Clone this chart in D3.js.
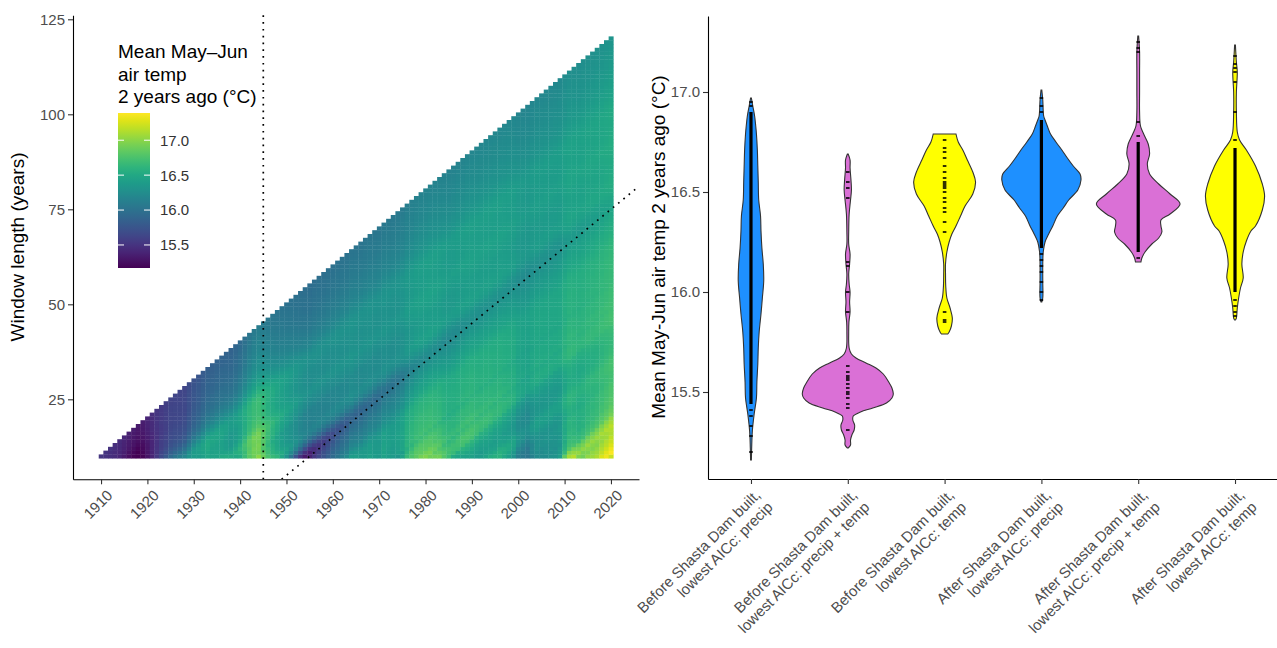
<!DOCTYPE html>
<html><head><meta charset="utf-8">
<script src="https://cdn.jsdelivr.net/npm/d3@7"></script>
<style>
body{margin:0;background:#fff}
svg{display:block}
text{font-family:"Liberation Sans",Arial,Helvetica,sans-serif}
</style>
</head><body>
<svg id="chart" width="1277" height="648"></svg>
<script>
// ---------------- DATA ----------------
// Estimated annual mean May–Jun air temperature (°C), 1901–2020 (values read from the heatmap's window means)
const annualStartYear = 1901;
const annualTemp = [
  15.6, 15.5, 15.5, 15.5, 15.7, 15.6, 15.5, 15.4, 15.4, 15.5,
  15.4, 15.3, 15.2, 15.1, 14.9, 14.8, 14.9, 15.0, 15.8, 16.4,
  16.6, 16.7, 16.5, 16.2, 16.4, 15.8, 15.7, 15.9, 17.0, 17.1,
  16.6, 17.0, 17.1, 16.0, 16.4, 16.3, 15.9, 15.8, 16.8, 17.4,
  18.1, 18.3, 17.9, 17.1, 15.2, 15.0, 15.1, 15.3, 15.4, 15.5,
  15.6, 15.4, 15.3, 15.5, 15.8, 16.4, 16.3, 16.2, 16.3, 16.6,
  16.4, 16.5, 16.3, 17.2, 15.9, 16.0, 16.4, 16.6, 16.0, 16.3,
  17.3, 16.0, 16.1, 16.8, 17.0, 18.2, 17.3, 17.3, 16.9, 16.7,
  16.7, 16.1, 16.1, 15.6, 15.9, 16.5, 16.9, 17.1, 16.8, 16.7,
  16.1, 16.3, 16.7, 16.4, 16.2, 16.7, 15.9, 16.2, 15.9, 14.6,
  15.8, 15.9, 17.8, 17.3, 16.3, 16.6, 16.5, 16.4, 16.9, 19.0,
  18.2, 16.4, 15.9, 16.9, 17.4, 17.0, 17.1, 17.8, 17.6, 17.8
];
const heatEndYearFirst = 1910;
const heatEndYearLast = 2020;
const windowMin = 10;
const damYear = 1945;
const colorLimits = [15.17, 17.39];
const legendBreaks = [15.5, 16.0, 16.5, 17.0];
const heatXTicks = [1910, 1920, 1930, 1940, 1950, 1960, 1970, 1980, 1990, 2000, 2010, 2020];
const heatYTicks = [25, 50, 75, 100, 125];
const legendTitle = ["Mean May\u2013Jun", "air temp", "2 years ago (\u00B0C)"];

// Violin panel
const violinCategories = [
  ["Before Shasta Dam built,", "lowest AICc: precip"],
  ["Before Shasta Dam built,", "lowest AICc: precip + temp"],
  ["Before Shasta Dam built,", "lowest AICc: temp"],
  ["After Shasta Dam built,", "lowest AICc: precip"],
  ["After Shasta Dam built,", "lowest AICc: precip + temp"],
  ["After Shasta Dam built,", "lowest AICc: temp"]
];
const violinModel = ["precip", "precip + temp", "temp", "precip", "precip + temp", "temp"];
const modelColors = {"precip": "#1E90FF", "precip + temp": "#DA70D6", "temp": "#FFFF00"};
const violinYTicks = [15.5, 16.0, 16.5, 17.0];
// density profiles: [temperature, relative density (widest violin = 1)]
const violin1 = [[15.16,0],[15.22,0.015],[15.305,0.03],[15.39,0.07],[15.47,0.12],[15.55,0.13],[15.64,0.15],[15.72,0.16],[15.8,0.18],[15.89,0.22],[15.97,0.25],[16.055,0.28],[16.14,0.27],[16.22,0.24],[16.305,0.22],[16.38,0.21],[16.46,0.17],[16.55,0.16],[16.63,0.15],[16.71,0.14],[16.79,0.12],[16.84,0.10],[16.88,0.08],[16.93,0.04],[16.97,0]];
const violin2 = [[15.22,0],[15.235,0.06],[15.26,0.06],[15.285,0.09],[15.31,0.14],[15.335,0.15],[15.36,0.11],[15.38,0.12],[15.40,0.28],[15.42,0.55],[15.445,0.85],[15.47,0.97],[15.49,1.0],[15.52,0.97],[15.55,0.9],[15.59,0.78],[15.62,0.62],[15.645,0.4],[15.67,0.18],[15.69,0.08],[15.72,0.03],[15.8,0.02],[15.85,0.025],[15.9,0.05],[15.95,0.04],[16.0,0.05],[16.04,0.03],[16.09,0.02],[16.14,0.04],[16.19,0.05],[16.24,0.02],[16.3,0.02],[16.39,0.03],[16.46,0.06],[16.51,0.08],[16.56,0.07],[16.62,0.05],[16.66,0.05],[16.69,0]];
const violin3 = [[15.79,0.07],[15.8,0.1],[15.83,0.15],[15.87,0.17],[15.92,0.12],[15.97,0.05],[16.03,0.025],[16.09,0.02],[16.14,0.02],[16.2,0.05],[16.25,0.1],[16.29,0.16],[16.33,0.25],[16.38,0.35],[16.43,0.45],[16.49,0.62],[16.55,0.68],[16.6,0.62],[16.66,0.5],[16.71,0.4],[16.75,0.3],[16.79,0.25]];
const violin4 = [[15.95,0],[15.97,0.03],[16.05,0.03],[16.14,0.03],[16.2,0.04],[16.25,0.08],[16.29,0.16],[16.33,0.25],[16.38,0.35],[16.42,0.48],[16.46,0.6],[16.51,0.8],[16.56,0.87],[16.59,0.85],[16.63,0.7],[16.67,0.57],[16.71,0.45],[16.75,0.32],[16.79,0.2],[16.83,0.13],[16.86,0.08],[16.88,0.05],[16.96,0.03],[17.01,0]];
const violin5 = [[16.15,0.06],[16.17,0.08],[16.2,0.15],[16.24,0.3],[16.27,0.45],[16.3,0.52],[16.33,0.5],[16.36,0.5],[16.39,0.7],[16.44,0.92],[16.49,0.7],[16.54,0.45],[16.59,0.25],[16.64,0.2],[16.69,0.25],[16.74,0.22],[16.79,0.12],[16.83,0.05],[16.9,0.03],[17.0,0.03],[17.1,0.03],[17.2,0.03],[17.28,0]];
const violin6 = [[15.86,0],[15.87,0.03],[15.92,0.05],[15.97,0.08],[16.02,0.12],[16.07,0.18],[16.14,0.15],[16.2,0.18],[16.255,0.25],[16.305,0.35],[16.33,0.45],[16.41,0.6],[16.48,0.65],[16.54,0.6],[16.63,0.45],[16.71,0.25],[16.76,0.1],[16.8,0.05],[16.9,0.03],[17.0,0.03],[17.1,0.05],[17.15,0.03],[17.235,0]];
const violinProfiles = [violin1, violin2, violin3, violin4, violin5, violin6];
// model points (dense runs, and isolated values)
const pointRuns = [[[15.44,16.9]], [], [], [[16.22,16.86]], [[16.2,16.75]], [[16.0,16.72]]];
const pointSingles = [
  [15.2,15.28,15.33,15.38,15.41,16.93,16.95],
  [15.31,15.42,15.44,15.47,15.49,15.5,15.52,15.54,15.56,15.57,15.58,15.6,15.63,15.9,16.0,16.13,16.15,16.47,16.52,16.55,16.6],
  [15.85,15.86,15.9,16.3,16.35,16.4,16.42,16.45,16.47,16.5,16.52,16.53,16.54,16.55,16.57,16.6,16.63,16.67,16.7,16.72,16.76],
  [15.96,16.0,16.05,16.1,16.13,16.16,16.19,16.9,16.93,16.97],
  [16.17,16.78,16.85,17.2,17.22,17.25],
  [15.88,15.9,15.93,15.96,16.76,16.9,17.05,17.1,17.12,17.14,17.18]
];

// ---------------- CHART ----------------
const svg = d3.select("#chart");
const tickCol = "#4d4d4d", tickFs = "15px", titleFs = "19px";

// ===== Left: heatmap =====
const hx = d3.scaleLinear().domain([1903.95, 2026.05]).range([73, 639]);
const hy = d3.scaleLinear().domain([3.95, 126.05]).range([479.3, 15.3]);
const color = d3.scaleSequential(d3.interpolateViridis).domain(colorLimits).clamp(true);

const cells = [];
for (let end = heatEndYearFirst; end <= heatEndYearLast; end++) {
  const maxL = end - annualStartYear + 1;
  for (let L = windowMin; L <= maxL; L++) {
    const i1 = end - annualStartYear, i0 = i1 - L + 1;
    let s = 0;
    for (let i = i0; i <= i1; i++) s += annualTemp[i];
    cells.push({year: end, L: L, v: s / L});
  }
}
svg.append("g").selectAll("rect").data(cells).join("rect")
  .attr("x", d => hx(d.year - 0.5))
  .attr("y", d => hy(d.L + 0.5))
  .attr("width", d => hx(d.year + 0.5) - hx(d.year - 0.5) + 0.35)
  .attr("height", d => hy(d.L - 0.5) - hy(d.L + 0.5) + 0.35)
  .attr("fill", d => color(d.v));

// dotted reference lines
svg.append("clipPath").attr("id", "hclip").append("rect")
  .attr("x", 73).attr("y", 15.3).attr("width", 639 - 73).attr("height", 479.3 - 15.3);
const dotStyle = sel => sel.attr("stroke", "#000").attr("stroke-width", 1.7)
  .attr("stroke-dasharray", "1.7,5.1").attr("fill", "none");
svg.append("line").attr("x1", hx(damYear)).attr("x2", hx(damYear))
  .attr("y1", hy.range()[1]).attr("y2", hy.range()[0]).call(dotStyle);
const xd = hx.domain(), yd = hy.domain();
const dx0 = Math.max(xd[0], yd[0] + damYear), dx1 = Math.min(xd[1], yd[1] + damYear);
svg.append("line").attr("clip-path", "url(#hclip)")
  .attr("x1", hx(dx0)).attr("y1", hy(dx0 - damYear))
  .attr("x2", hx(dx1)).attr("y2", hy(dx1 - damYear)).call(dotStyle);

// axes
function styleAxis(g) {
  g.select(".domain").attr("stroke", "#000").attr("stroke-width", 1.1);
  g.selectAll(".tick line").attr("stroke", "#333").attr("stroke-width", 1.1);
  g.selectAll(".tick text").attr("fill", tickCol).style("font-size", tickFs);
}
svg.append("g").attr("transform", "translate(73,0)")
  .call(d3.axisLeft(hy).tickValues(heatYTicks).tickSize(5).tickSizeOuter(0).tickPadding(3))
  .call(styleAxis);
const hxAxis = svg.append("g").attr("transform", "translate(0,479.3)")
  .call(d3.axisBottom(hx).tickValues(heatXTicks).tickFormat(d3.format("d")).tickSize(5).tickSizeOuter(0))
  .call(styleAxis);
hxAxis.selectAll(".tick text")
  .attr("text-anchor", "end").attr("y", 0).attr("dy", "0.75em")
  .attr("transform", "translate(4,9) rotate(-45)");

svg.append("text").attr("transform", "translate(24,247) rotate(-90)")
  .attr("text-anchor", "middle").style("font-size", titleFs).attr("fill", "#000")
  .text("Window length (years)");

// legend
const lg = svg.append("g");
legendTitle.forEach((t, i) => lg.append("text").attr("x", 118).attr("y", 58 + i * 22.5)
  .style("font-size", titleFs).attr("fill", "#000").text(t));
const ly = d3.scaleLinear().domain(colorLimits).range([268, 113]);
const grad = svg.append("defs").append("linearGradient").attr("id", "vgrad")
  .attr("x1", 0).attr("y1", 1).attr("x2", 0).attr("y2", 0);
d3.range(0, 21).forEach(i => grad.append("stop").attr("offset", i / 20)
  .attr("stop-color", d3.interpolateViridis(i / 20)));
lg.append("rect").attr("x", 118).attr("y", 113).attr("width", 32).attr("height", 155).attr("fill", "url(#vgrad)");
legendBreaks.forEach(b => {
  lg.append("line").attr("x1", 118).attr("x2", 124).attr("y1", ly(b)).attr("y2", ly(b)).attr("stroke", "#fff").attr("stroke-width", 1);
  lg.append("line").attr("x1", 144).attr("x2", 150).attr("y1", ly(b)).attr("y2", ly(b)).attr("stroke", "#fff").attr("stroke-width", 1);
  lg.append("text").attr("x", 160).attr("y", ly(b)).attr("dy", "0.36em")
    .style("font-size", tickFs).attr("fill", "#333").text(d3.format(".1f")(b));
});

// ===== Right: violins =====
const vx = d3.scalePoint().domain(d3.range(violinCategories.length)).range([708, 1278]).padding(0.444);
const vy = d3.scaleLinear().domain([15.065, 17.38]).range([479, 16]);
const step = vx.step();
const halfMax = 0.47 * step;

violinProfiles.forEach((prof, i) => {
  const cx = vx(i);
  const area = d3.area().curve(d3.curveCatmullRom.alpha(0.5))
    .y(d => vy(d[0]))
    .x0(d => cx - Math.max(d[1] * halfMax, 0.4))
    .x1(d => cx + Math.max(d[1] * halfMax, 0.4));
  svg.append("path").attr("d", area(prof))
    .attr("fill", modelColors[violinModel[i]]).attr("stroke", "#333").attr("stroke-width", 1.1);
  pointRuns[i].forEach(r => svg.append("rect").attr("x", cx - 1.6).attr("width", 3.2)
    .attr("y", vy(r[1])).attr("height", vy(r[0]) - vy(r[1])).attr("fill", "#000"));
  pointSingles[i].forEach(v => svg.append("rect").attr("x", cx - 1.8).attr("width", 3.6)
    .attr("y", vy(v) - 0.8).attr("height", 1.6).attr("fill", "#000"));
});

svg.append("g").attr("transform", "translate(708,0)")
  .call(d3.axisLeft(vy).tickValues(violinYTicks).tickFormat(d3.format(".1f")).tickSize(5).tickSizeOuter(0).tickPadding(3))
  .call(styleAxis);
const vxAxis = svg.append("g").attr("transform", "translate(0,479)")
  .call(d3.axisBottom(vx).tickFormat("").tickSize(5).tickSizeOuter(0))
  .call(styleAxis);
vxAxis.selectAll(".tick").each(function(d) {
  const t = d3.select(this).append("text")
    .attr("text-anchor", "end").attr("fill", tickCol).style("font-size", tickFs)
    .attr("transform", "translate(2,9) rotate(-45)");
  violinCategories[d].forEach((line, k) => t.append("tspan").attr("x", 0)
    .attr("dy", k === 0 ? "0.75em" : "1.15em").text(line));
});

svg.append("text").attr("transform", "translate(665,247) rotate(-90)")
  .attr("text-anchor", "middle").style("font-size", titleFs).attr("fill", "#000")
  .text("Mean May-Jun air temp 2 years ago (\u00B0C)");
</script>
</body></html>
